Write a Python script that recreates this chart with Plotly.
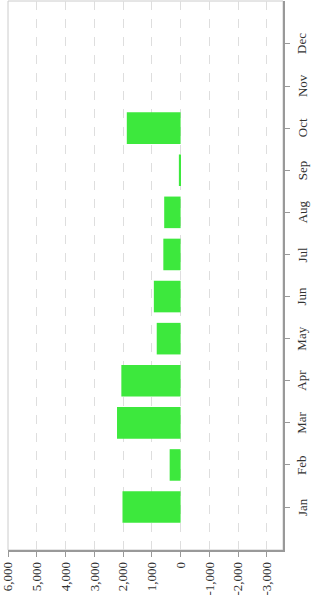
import plotly.graph_objects as go

months = ["Jan", "Feb", "Mar", "Apr", "May", "Jun", "Jul", "Aug", "Sep", "Oct", "Nov", "Dec"]
values = [2020, 380, 2210, 2060, 830, 930, 600, 570, 60, 1870, None, None]
x_ticks = [6000, 5000, 4000, 3000, 2000, 1000, 0, -1000, -2000, -3000]
x_tick_labels = ["6,000", "5,000", "4,000", "3,000", "2,000", "1,000", "0", "-1,000", "-2,000", "-3,000"]

FAMILY = "Liberation Serif"
fig = go.Figure()
fig.add_trace(go.Bar(
    y=months, x=values, orientation="h",
    marker=dict(color="rgb(61,232,61)", line=dict(width=0)),
    width=0.75,
))

fig.update_layout(
    width=311, height=607,
    margin=dict(l=8, r=28, t=1, b=57, autoexpand=False),
    paper_bgcolor="white", plot_bgcolor="white",
    showlegend=False,
    font=dict(family=FAMILY, size=13, color="#333"),
    xaxis=dict(
        range=[6000, -3560],
        tickvals=x_ticks, ticktext=x_tick_labels,
        tickangle=-90, automargin=False,
        showgrid=True, gridcolor="#dedede", griddash="dash", gridwidth=1,
        zeroline=False,
        showline=True, linecolor="#999", linewidth=1.5,
        ticks="outside", ticklen=5, tickcolor="#999",
        tickfont=dict(family=FAMILY, size=13, color="#333"),
    ),
    yaxis=dict(
        type="category", categoryorder="array", categoryarray=months,
        range=[-1.02, 12.02],
        side="right", automargin=False,
        showticklabels=False,
        showgrid=False, zeroline=False,
        showline=True, linecolor="#999", linewidth=1.5,
        ticks="outside", ticklen=5, tickcolor="#999",
    ),
    shapes=[dict(type="rect", xref="paper", yref="paper", x0=0, x1=1, y0=0, y1=1,
                 line=dict(color="#cccccc", width=1), layer="below")],
)

for m in months:
    fig.add_annotation(
        x=1, xref="paper", y=m, yref="y",
        text=m, textangle=-90, showarrow=False,
        xanchor="center", yanchor="middle", xshift=19,
        font=dict(family=FAMILY, size=13, color="#333"),
    )

fig.write_html("out.html", config={"displayModeBar": False},
               post_script="document.body.style.margin='0';document.body.style.overflow='hidden';")
